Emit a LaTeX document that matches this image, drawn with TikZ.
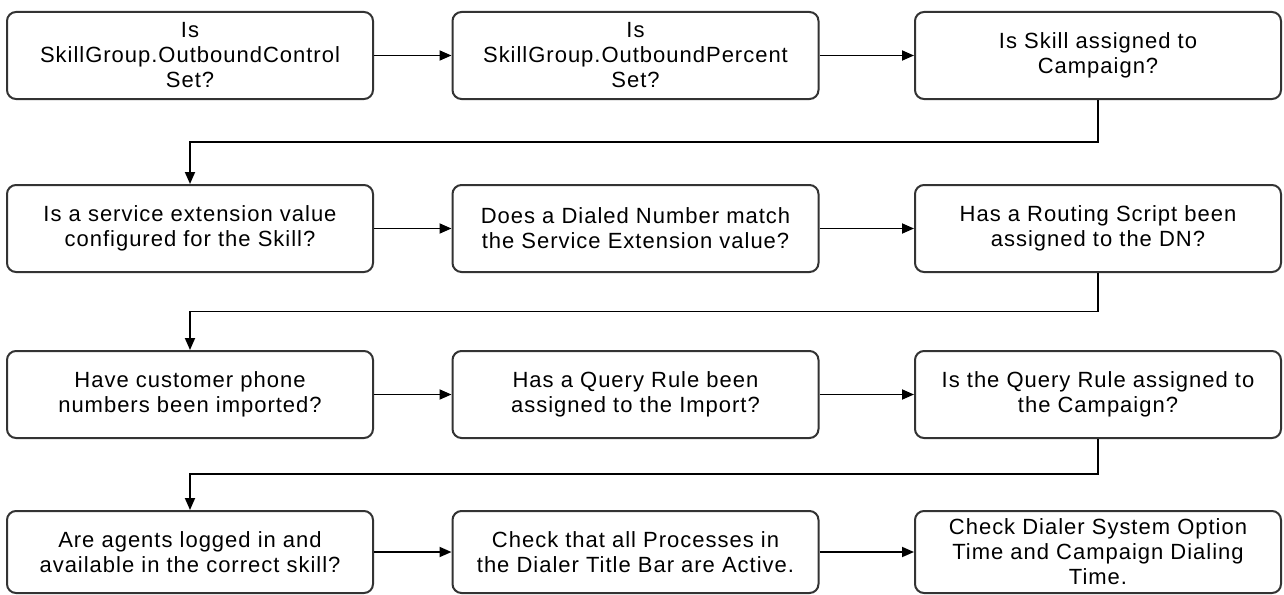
\documentclass[tikz,border=0pt]{standalone}
\usepackage{fontspec}
\setmainfont[LetterSpace=4.5]{Liberation Sans}
\usetikzlibrary{arrows.meta}
\begin{document}
\begin{tikzpicture}[x=1pt,y=1pt,
  stepbox/.style={draw=black!80, line width=2pt, rounded corners=9pt,
    minimum width=366pt, minimum height=87pt, inner sep=0pt, align=center,
    font=\fontsize{22}{25}\selectfont},
  flow/.style={draw=black, line width=1.8pt, -{Triangle[length=12pt,width=10pt]}}]
\useasboundingbox (0,0) rectangle (1284,-594);
% row 1
\node[stepbox] (r1c1) at (190,-55.5) {Is\\SkillGroup.OutboundControl\\Set?};
\node[stepbox] (r1c2) at (635.5,-55.5) {Is\\SkillGroup.OutboundPercent\\Set?};
\node[stepbox] (r1c3) at (1098,-55.5) {Is Skill assigned to\\Campaign?};
% row 2
\node[stepbox] (r2c1) at (190,-228.5) {Is a service extension value\\configured for the Skill?};
\node[stepbox] (r2c2) at (635.5,-228.5) {Does a Dialed Number match\\the Service Extension value?};
\node[stepbox] (r2c3) at (1098,-228.5) {Has a Routing Script been\\assigned to the DN?};
% row 3
\node[stepbox] (r3c1) at (190,-394.5) {Have customer phone\\numbers been imported?};
\node[stepbox] (r3c2) at (635.5,-394.5) {Has a Query Rule been\\assigned to the Import?};
\node[stepbox] (r3c3) at (1098,-394.5) {Is the Query Rule assigned to\\the Campaign?};
% row 4
\node[stepbox, minimum height=82pt] (r4c1) at (190,-552) {Are agents logged in and\\available in the correct skill?};
\node[stepbox, minimum height=82pt] (r4c2) at (635.5,-552) {Check that all Processes in\\the Dialer Title Bar are Active.};
\node[stepbox, minimum height=82pt] (r4c3) at (1098,-552) {Check Dialer System Option\\Time and Campaign Dialing\\Time.};
% connectors within rows
\draw[flow] (r1c1) -- (r1c2);
\draw[flow] (r1c2) -- (r1c3);
\draw[flow] (r2c1) -- (r2c2);
\draw[flow] (r2c2) -- (r2c3);
\draw[flow] (r3c1) -- (r3c2);
\draw[flow] (r3c2) -- (r3c3);
\draw[flow] (r4c1) -- (r4c2);
\draw[flow] (r4c2) -- (r4c3);
% connectors between rows
\coordinate (j1) at (190,-142);
\coordinate (j2) at (190,-311.5);
\coordinate (j3) at (190,-474);
\draw[flow] (r1c3.south) |- (j1) -- (r2c1.north);
\draw[flow] (r2c3.south) |- (j2) -- (r3c1.north);
\draw[flow] (r3c3.south) |- (j3) -- (r4c1.north);
\end{tikzpicture}
\end{document}
